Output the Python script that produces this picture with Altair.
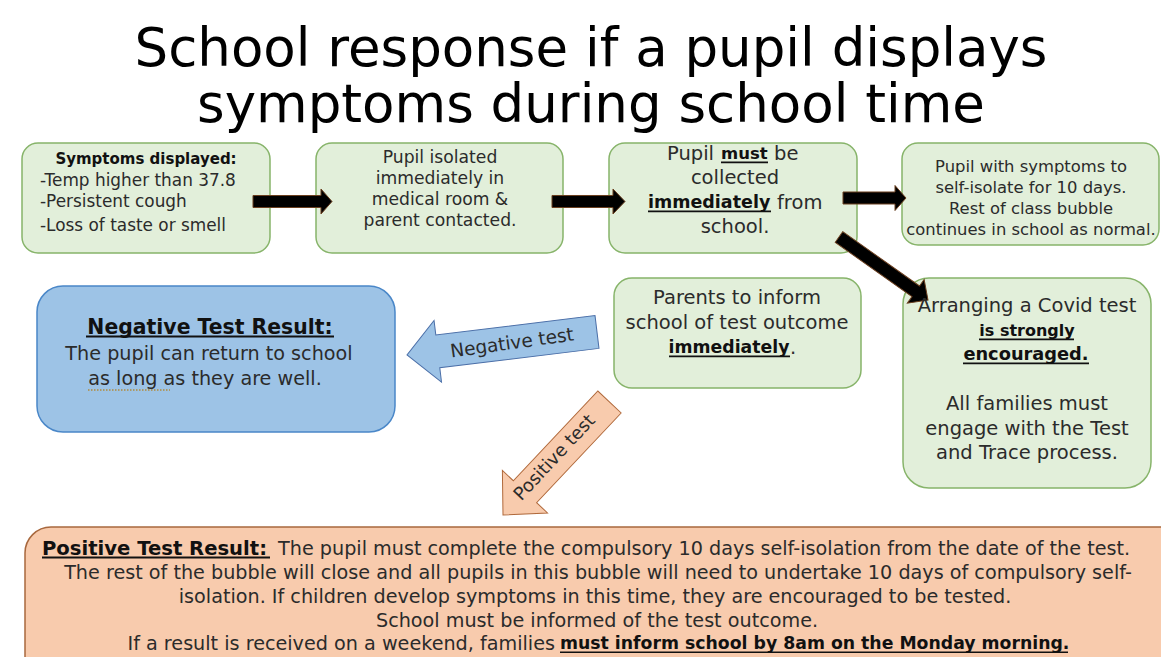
import math
import altair as alt
import pandas as pd

# ---------------- text content ----------------
title_lines = ["School response if a pupil displays", "symptoms during school time"]

symptoms_head = "Symptoms displayed:"
symptoms_items = ["-Temp higher than 37.8", "-Persistent cough", "-Loss of taste or smell"]
isolated_lines = ["Pupil isolated", "immediately in", "medical room &", "parent contacted."]
collected_lines = ["collected", "school."]
self_iso_lines = ["Pupil with symptoms to", "self-isolate for 10 days.",
                  "Rest of class bubble", "continues in school as normal."]
negative_head = "Negative Test Result:"
negative_lines = ["The pupil can return to school", "as long as they are well."]
parents_lines = ["Parents to inform", "school of test outcome"]
covid_lines = ["Arranging a Covid test", "All families must",
               "engage with the Test", "and Trace process."]
covid_bold = ["is strongly", "encouraged."]
positive_head = "Positive Test Result:"
positive_lines = [
    "The pupil must complete the compulsory 10 days self-isolation from the date of the test.",
    "The rest of the bubble will close and all pupils in this bubble will need to undertake 10 days of compulsory self-",
    "isolation. If children develop symptoms in this time, they are encouraged to be tested.",
    "School must be informed of the test outcome.",
    "If a result is received on a weekend, families",
]
positive_bold = "must inform school by 8am on the Monday morning."
arrow_labels = ["Negative test", "Positive test"]

# ---------------- layout (image pixel coordinates) ----------------
W, H = 1153, 649
X0, Y0 = 8, 8
FONT = "DejaVu Sans"
INK = "#2b2b2b"

box_left = [22, 316, 609, 902, 614, 37, 903, 25]
box_right = [270, 563, 857, 1159, 861, 395, 1151, 1190]
box_top = [143, 143, 143, 143, 278, 286, 278, 527]
box_bottom = [253, 253, 253, 245, 388, 432, 488, 700]
box_fill = ["#e2efda"] * 5 + ["#9dc3e6", "#e2efda", "#f8cbad"]
box_stroke = ["#87b46a"] * 5 + ["#4a87c8", "#87b46a", "#a8683e"]
box_radius = [16, 16, 16, 16, 18, 26, 26, 26]

arrow_tail = [(253, 201.5), (552, 201.5), (843, 198), (839, 237), (597, 332), (609.5, 402)]
arrow_tip = [(332, 201.5), (625, 201.5), (906, 198), (928, 300), (407, 355), (503, 515)]
arrow_shaft = [12, 12, 12, 13, 33, 32]
arrow_head = [25, 25, 25, 29, 62, 62]
arrow_headlen = [11, 12, 11, 15, 31, 32]
arrow_fill = ["#000000"] * 4 + ["#9dc3e6", "#f8cbad"]
arrow_stroke = ["#6b3f1f"] * 4 + ["#4b6fa8", "#b0693b"]

xs = alt.Scale(domain=[X0, X0 + W], nice=False, zero=False)
ys = alt.Scale(domain=[Y0, Y0 + H], nice=False, zero=False, reverse=True)

# ---------------- boxes ----------------
boxes = pd.DataFrame(dict(x0=box_left, x1=box_right, y0=box_top, y1=box_bottom,
                          fill=box_fill, stroke=box_stroke, r=box_radius))
box_layers = []
for r, grp in boxes.groupby("r"):
    box_layers.append(
        alt.Chart(grp).mark_rect(cornerRadius=int(r), strokeWidth=1.5).encode(
            x=alt.X("x0:Q", scale=xs, axis=None), x2="x1:Q",
            y=alt.Y("y0:Q", scale=ys, axis=None), y2="y1:Q",
            fill=alt.Fill("fill:N", scale=None), stroke=alt.Stroke("stroke:N", scale=None)))

# ---------------- arrows ----------------
rows = []
for tail, tip, sw, hw, hl, f, s in zip(arrow_tail, arrow_tip, arrow_shaft, arrow_head,
                                       arrow_headlen, arrow_fill, arrow_stroke):
    dx, dy = tip[0] - tail[0], tip[1] - tail[1]
    L = math.hypot(dx, dy)
    k = 2.0 / L
    sy, hy, bx = sw / 2 * k, hw / 2 * k, 1 - hl * k
    path = (f"M-1,{-sy:.4f}L{bx:.4f},{-sy:.4f}L{bx:.4f},{-hy:.4f}L1,0"
            f"L{bx:.4f},{hy:.4f}L{bx:.4f},{sy:.4f}L-1,{sy:.4f}Z")
    rows.append(dict(x=(tail[0] + tip[0]) / 2, y=(tail[1] + tip[1]) / 2,
                     ang=math.degrees(math.atan2(dy, dx)) % 360, size=L * L,
                     path=path, fill=f, stroke=s))
arrows = pd.DataFrame(rows)
arrow_layer = alt.Chart(arrows).mark_point(filled=True, opacity=1, strokeWidth=1).encode(
    x=alt.X("x:Q", scale=xs, axis=None), y=alt.Y("y:Q", scale=ys, axis=None),
    shape=alt.Shape("path:N", scale=None), size=alt.Size("size:Q", scale=None),
    angle=alt.Angle("ang:Q", scale=None),
    fill=alt.Fill("fill:N", scale=None), stroke=alt.Stroke("stroke:N", scale=None))

# ---------------- texts ----------------
T = []
U = []  # underlines


def add(t, x, y, size, bold=False, align="center", angle=0, color=INK, base="middle"):
    T.append(dict(t=t, x=x, y=y, s=size, w="bold" if bold else "normal", al=align,
                  a=angle, c=color, b=base))


def uline(x0, x1, y, size, w=1.6):
    U.append(dict(x0=x0, x1=x1, y=y + 0.3 * size + 2.5, w=w))


# title
add(title_lines[0], 591, 66, 53, color="#000000", base="alphabetic")
add(title_lines[1], 591, 122, 53, color="#000000", base="alphabetic")
# box 1
add(symptoms_head, 146, 159, 15, bold=True, color="#111111")
for t, y in zip(symptoms_items, [181, 202, 226]):
    add(t, 40, y, 16.9, align="left")
# box 2
for t, y in zip(isolated_lines, [158, 179, 200, 221]):
    add(t, 440, y, 17.2)
# box 3
add("Pupil", 714, 154, 19.5, align="right")
add("must", 721, 154, 16.5, bold=True, align="left", color="#111111")
uline(721, 768, 154, 19.5)
add("be", 774, 154, 19.5, align="left")
add(collected_lines[0], 735, 178, 19.5)
add("immediately", 648, 203, 17.5, bold=True, align="left", color="#111111")
uline(648, 771, 203, 19.5)
add("from", 777, 203, 19.5, align="left")
add(collected_lines[1], 735, 227, 19.5)
# box 4
for t, y in zip(self_iso_lines, [167, 188, 209, 230]):
    add(t, 1031, y, 16.4)
# parents box
add(parents_lines[0], 737, 298, 19.5)
add(parents_lines[1], 737, 323, 19.5)
add("immediately", 729, 348, 17.3, bold=True, color="#111111")
uline(669, 790, 348, 19.5)
add(".", 790, 348, 19.5, align="left")
# negative box
add(negative_head, 210, 328, 20.4, bold=True, color="#111111")
uline(86, 334, 328, 20.4, 2)
add(negative_lines[0], 209, 354, 19.2)
add(negative_lines[1], 205, 379, 19.2)
# covid test box
add(covid_lines[0], 1027, 306, 19.5)
add(covid_bold[0], 1027, 331, 16, bold=True, color="#111111")
uline(979, 1074, 331, 19.5)
add(covid_bold[1], 1026, 355, 17.8, bold=True, color="#111111")
uline(963, 1089, 355, 19.5)
for t, y in zip(covid_lines[1:], [404, 429, 453]):
    add(t, 1027, y, 19.5)
# positive box
add(positive_head, 42, 549, 19.6, bold=True, align="left", color="#111111")
uline(42, 270, 549, 19.6, 2)
add(positive_lines[0], 278, 549, 19.2, align="left")
add(positive_lines[1], 598, 573, 19.2)
add(positive_lines[2], 595, 597, 19.2)
add(positive_lines[3], 597, 621, 19.2)
add(positive_lines[4], 555, 644, 19.2, align="right")
add(positive_bold, 560, 644, 17.3, bold=True, align="left", color="#111111")
uline(560, 1068, 644, 19.2)
# arrow labels
add(arrow_labels[0], 512, 343, 18.5, angle=352)
add(arrow_labels[1], 555, 458, 18, angle=313)

texts = pd.DataFrame(T)
text_layers = []
for (w, al, b), grp in texts.groupby(["w", "al", "b"]):
    text_layers.append(
        alt.Chart(grp).mark_text(font=FONT, fontWeight=w, align=al, baseline=b).encode(
            x=alt.X("x:Q", scale=xs, axis=None), y=alt.Y("y:Q", scale=ys, axis=None),
            text="t:N", size=alt.Size("s:Q", scale=None),
            angle=alt.Angle("a:Q", scale=None), color=alt.Color("c:N", scale=None)))

ul = pd.DataFrame(U)
ul_layers = []
for w, grp in ul.groupby("w"):
    ul_layers.append(
        alt.Chart(grp).mark_rule(color="#111111", strokeWidth=float(w)).encode(
            x=alt.X("x0:Q", scale=xs, axis=None), x2="x1:Q",
            y=alt.Y("y:Q", scale=ys, axis=None)))

# spell-check style dotted underline under "as long as"
dotted = pd.DataFrame(dict(x0=[88], x1=[170], y=[390]))
dot_layer = alt.Chart(dotted).mark_rule(color="#b08a3c", strokeWidth=1.5,
                                         strokeDash=[1.5, 1.5]).encode(
    x=alt.X("x0:Q", scale=xs, axis=None), x2="x1:Q", y=alt.Y("y:Q", scale=ys, axis=None))

chart = alt.layer(*box_layers, arrow_layer, *text_layers, *ul_layers, dot_layer).properties(
    width=W, height=H, padding=0, autosize=alt.AutoSizeParams(type="none"),
    background="white"
).configure_view(stroke=None)

chart.save("out.html", embed_options={"renderer": "svg", "actions": False})
